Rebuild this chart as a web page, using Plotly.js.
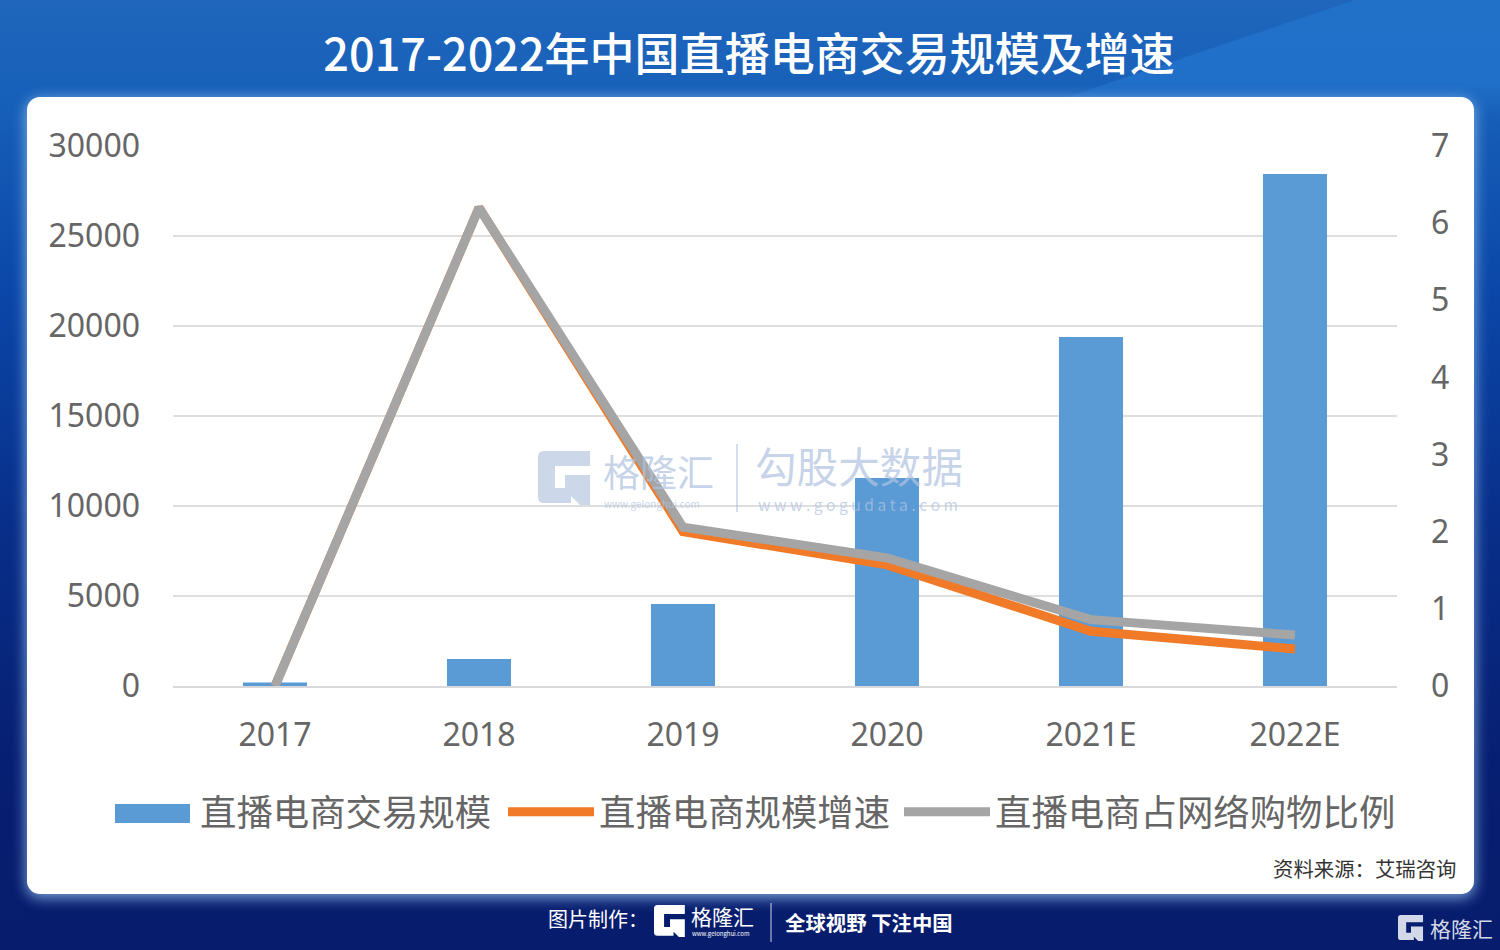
<!DOCTYPE html>
<html><head><meta charset="utf-8">
<script src="https://cdn.plot.ly/plotly-3.0.1.min.js"></script>
<style>
html,body{margin:0;padding:0;width:1500px;height:950px;overflow:hidden;background:#071c6c}
#bg{position:absolute;left:0;top:0;width:1500px;height:950px;background:linear-gradient(180deg,#1f66bc 0,#1760b9 100px,#0b47a8 290px,#082f8a 520px,#071f72 760px,#071c6c 100%)}
#ray{position:absolute;left:0;top:0;width:1500px;height:120px;background:linear-gradient(180deg,#2273cc 0,#2273cc 80px,rgba(34,115,204,0) 118px);opacity:.8;clip-path:polygon(1355px 0,1500px 0,1500px 120px,1000px 120px)}
#card{position:absolute;left:27px;top:97px;width:1447px;height:797px;background:#fff;border-radius:13px;box-shadow:0 3px 14px 1px rgba(150,195,240,.8)}
#chart{position:absolute;left:0;top:0;width:1500px;height:950px}
svg.logo{position:absolute;pointer-events:none}
</style></head><body>
<div id="bg"></div><div id="ray"></div><div id="card"></div>
<div id="chart"></div>
<svg class="logo" style="left:538px;top:451px;opacity:.72" width="54" height="54" viewBox="0 0 54 54"><path d="M6 0H52V15H17V37H27V24H52V54H42L33 45V52H6Q0 52 0 46V6Q0 0 6 0Z" fill="#b9c8e2"/></svg>
<svg class="logo" style="left:654px;top:905px" width="32" height="32" viewBox="0 0 54 54"><path d="M6 0H52V15H17V37H27V24H52V54H42L33 45V52H6Q0 52 0 46V6Q0 0 6 0Z" fill="#fff"/></svg>
<svg class="logo" style="left:1398px;top:915px" width="26" height="26" viewBox="0 0 54 54"><path d="M6 0H52V15H17V37H27V24H52V54H42L33 45V52H6Q0 52 0 46V6Q0 0 6 0Z" fill="#d3d8e8"/></svg>
<script>
const categories = ['2017','2018','2019','2020','2021E','2022E'];
const scaleValues = [190,1500,4560,11555,19390,28440];
const growthValues = [0,6.2,2.0,1.57,0.71,0.48];
const shareValues = [0,6.2,2.06,1.66,0.86,0.66];
const seriesNames = ['直播电商交易规模','直播电商规模增速','直播电商占网络购物比例'];
const chartTitle = '2017-2022年中国直播电商交易规模及增速';
const FONT = '"Noto Sans CJK SC","Noto Sans",sans-serif';
const L=173,T=146,W=1224,H=540;
const px=x=>(x-L)/W, py=y=>1-(y-T)/H;
function note(text,x,y,size,color,anchor,weight){
  return {text,xref:'paper',yref:'paper',x:px(x),y:py(y),xanchor:anchor||'left',yanchor:'middle',showarrow:false,
    font:{family:FONT,size,color,weight:weight||400}};
}
function leg(x,iw){
  return {orientation:'h',xref:'container',yref:'container',x:x/1500,y:1-812/950,xanchor:'left',yanchor:'middle',itemwidth:iw,bgcolor:'rgba(0,0,0,0)',
   font:{family:FONT,size:36.4,color:'#666666'},itemclick:false,itemdoubleclick:false};
}
const wm='rgba(176,195,224,0.72)';
const data=[
 {type:'bar',x:categories,y:scaleValues,name:seriesNames[0],marker:{color:'#5B9BD5'},hoverinfo:'skip',legend:'legend'},
 {type:'scatter',mode:'lines',x:categories,y:growthValues,name:seriesNames[1],yaxis:'y2',cliponaxis:false,line:{color:'#F07A28',width:9},hoverinfo:'skip',legend:'legend2'},
 {type:'scatter',mode:'lines',x:categories,y:shareValues,name:seriesNames[2],yaxis:'y2',cliponaxis:false,line:{color:'#A5A5A5',width:9},hoverinfo:'skip',legend:'legend3'}
];
const tickFont={family:'"Noto Sans",sans-serif',size:32,color:'#666666'};
const layout={
 width:1500,height:950,paper_bgcolor:'rgba(0,0,0,0)',plot_bgcolor:'rgba(0,0,0,0)',showlegend:true,
 margin:{l:L,t:T,r:1500-L-W,b:950-T-H,pad:0,autoexpand:false},bargap:0.686,font:{family:FONT},
 title:{text:chartTitle,xref:'container',yref:'container',x:749/1500,y:1-55/950,xanchor:'center',yanchor:'middle',font:{family:FONT,size:45,color:'#fff',weight:500}},
 xaxis:{type:'category',tickfont:tickFont,showgrid:false,showline:true,linecolor:'#D9D9D9',linewidth:2,zeroline:false,ticks:'',ticklabelstandoff:20},
 yaxis:{range:[0,30000],tick0:0,dtick:5000,tickformat:'d',tickfont:tickFont,gridcolor:'#DEDEDE',gridwidth:2,zeroline:false,ticks:'',ticklabelstandoff:32},
 yaxis2:{overlaying:'y',side:'right',range:[0,7],tick0:0,dtick:1,tickfont:tickFont,showgrid:false,zeroline:false,ticks:'',ticklabelstandoff:33},
 legend:leg(106,84),legend2:leg(503,86),legend3:leg(899,86),
 shapes:[
  {type:'rect',xref:'paper',yref:'paper',x0:px(115),x1:px(190),y0:py(804),y1:py(823),fillcolor:'#5B9BD5',line:{width:0},layer:'above'},
  {type:'line',xref:'paper',yref:'paper',x0:px(737),x1:px(737),y0:py(444),y1:py(512),line:{color:wm,width:1.5},layer:'above'},
  {type:'line',xref:'paper',yref:'paper',x0:px(771),x1:px(771),y0:py(903),y1:py(942),line:{color:'rgba(255,255,255,.8)',width:1},layer:'above'}
 ],
 annotations:[
  note('格隆汇',601,471,37,wm),
  note('www.gelonghui.com',602,503,10,wm),
  note('勾股大数据',753,465,41.6,wm),
  note('w w w . g o g u d a t a . c o m',756,504,15.6,wm),
  note('资料来源\uFF1A艾瑞咨询',1271,868,20.4,'#333333'),
  note('图片制作\uFF1A',546,918,20,'#ffffff'),
  note('格隆汇',689,916,21,'#ffffff'),
  note('www.gelonghui.com',690,933,6,'#ffffff'),
  note('全球视野 下注中国',783,922,20.4,'#ffffff',null,700),
  note('格隆汇',1428,928,21,'#d3d8e8')
 ]
};
Plotly.newPlot('chart',data,layout,{displayModeBar:false});
</script></body></html>
